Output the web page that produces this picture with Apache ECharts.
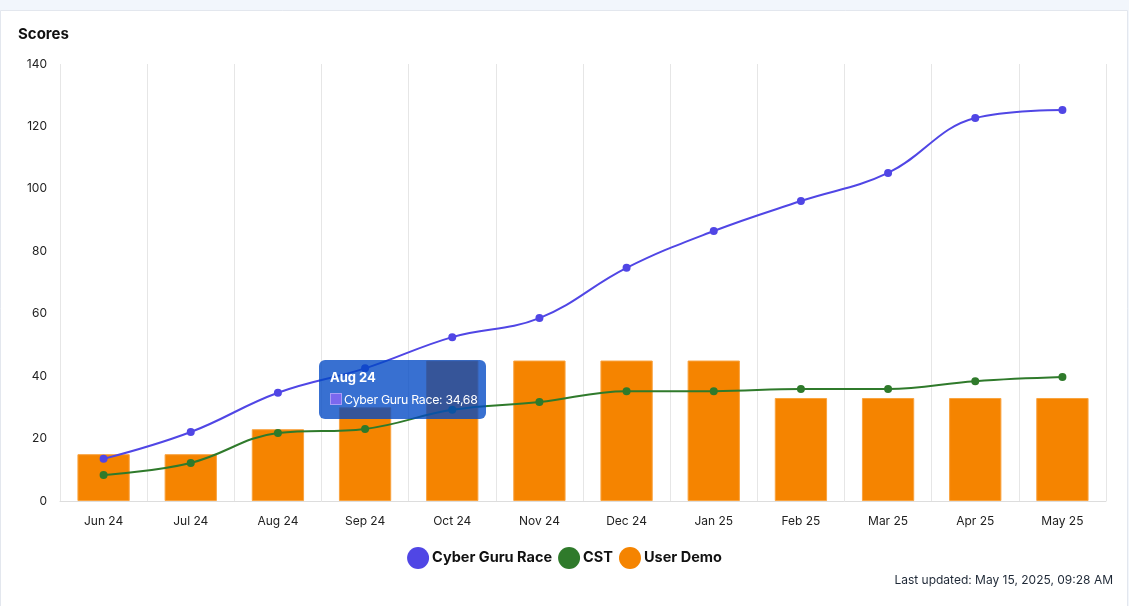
<!DOCTYPE html>
<html><head><meta charset="utf-8">
<script src="https://cdn.jsdelivr.net/npm/echarts@6/dist/echarts.min.js"></script>
<style>html,body{margin:0;padding:0;background:#f2f6fc;}#c{width:1129px;height:606px;}</style>
</head><body><div id="c"></div>
<script>
const categories = ['Jun 24','Jul 24','Aug 24','Sep 24','Oct 24','Nov 24','Dec 24','Jan 25','Feb 25','Mar 25','Apr 25','May 25'];
const cyberGuruRace = [13.5, 22.1, 34.68, 42.5, 52.5, 58.6, 74.7, 86.5, 96.1, 105.1, 122.7, 125.3];
const cst = [8.3, 12.2, 21.8, 23.1, 29.2, 31.7, 35.2, 35.2, 35.9, 35.9, 38.4, 39.7];
const userDemo = [15, 15, 23, 30, 45, 45, 45, 45, 33, 33, 33, 33];
const yTicks = [0, 20, 40, 60, 80, 100, 120, 140];

const FONT = 'Inter, "Noto Sans", sans-serif';
const chart = echarts.init(document.getElementById('c'));
chart.setOption({
  backgroundColor: '#f2f6fc',
  textStyle: { fontFamily: FONT },
  animation: false,
  graphic: [
    { type: 'rect', z: -10, shape: { x: 0.5, y: 10.5, width: 1127, height: 600 },
      style: { fill: '#ffffff', stroke: '#e3e7ee', lineWidth: 1 } },
    { type: 'text', left: 18, top: 27, style: { text: 'Scores', font: 'bold 15px ' + FONT, fill: '#111' } },
    { type: 'text', right: 16, top: 574, style: { text: 'Last updated: May 15, 2025, 09:28 AM', font: '12px ' + FONT, fill: '#1f2937' } }
  ],
  grid: { left: 60, right: 23, top: 64, bottom: 105, containLabel: false },
  legend: {
    bottom: 32, left: 'center', itemWidth: 22, itemHeight: 22, itemGap: 6, icon: 'circle',
    itemStyle: { borderWidth: 0 },
    textStyle: { fontFamily: FONT, fontWeight: 'bold', fontSize: 14.5, color: '#111', padding: [0, 0, 0, -2] },
    data: ['Cyber Guru Race', 'CST', 'User Demo']
  },
  tooltip: {
    trigger: 'item', triggerOn: 'none', alwaysShowContent: true,
    backgroundColor: 'rgba(0,72,196,0.78)', borderWidth: 0, borderRadius: 6,
    padding: [8, 8, 10, 11], extraCssText: 'box-shadow:none;',
    textStyle: { color: '#fff', fontFamily: FONT, fontSize: 12.3 },
    position: function () { return [319, 360]; },
    formatter: function (p) {
      const v = String(p.value).replace('.', ',');
      return '<div style="font-weight:bold;font-size:13px;margin-bottom:5px;">' + p.name + '</div>' +
        '<span style="display:inline-block;width:10px;height:10px;background:#7b68ee;border:1px solid #a99cf5;vertical-align:-1px;margin-right:2px;"></span>' +
        '<span style="letter-spacing:-0.3px">' + p.seriesName + ': ' + v + '</span>';
    }
  },
  xAxis: {
    type: 'category', data: categories,
    axisLine: { lineStyle: { color: '#dddddd' } },
    axisTick: { show: false },
    axisLabel: { color: '#222', fontSize: 12, margin: 14, fontFamily: FONT },
    splitLine: { show: true, lineStyle: { color: '#e6e6e6' } }
  },
  yAxis: {
    type: 'value', min: yTicks[0], max: yTicks[yTicks.length - 1], interval: 20,
    axisLine: { show: false }, axisTick: { show: false },
    axisLabel: { color: '#222', fontSize: 12, margin: 13, fontFamily: FONT },
    splitLine: { show: false }
  },
  series: [
    { name: 'Cyber Guru Race', type: 'line', data: cyberGuruRace, smooth: 0.4, z: 5,
      color: '#5046e5', symbol: 'circle', symbolSize: 8, showSymbol: true,
      lineStyle: { width: 2 }, emphasis: { disabled: true } },
    { name: 'CST', type: 'line', data: cst, smooth: 0.4, z: 4,
      color: '#2f7a2b', symbol: 'circle', symbolSize: 8,
      lineStyle: { width: 2 }, emphasis: { disabled: true } },
    { name: 'User Demo', type: 'bar', data: userDemo, barWidth: '60%', z: 2,
      color: '#f58400', itemStyle: { borderColor: '#f9a33f', borderWidth: 1 },
      emphasis: { disabled: true } }
  ]
});
chart.dispatchAction({ type: 'showTip', seriesIndex: 0, dataIndex: 2 });
</script></body></html>
